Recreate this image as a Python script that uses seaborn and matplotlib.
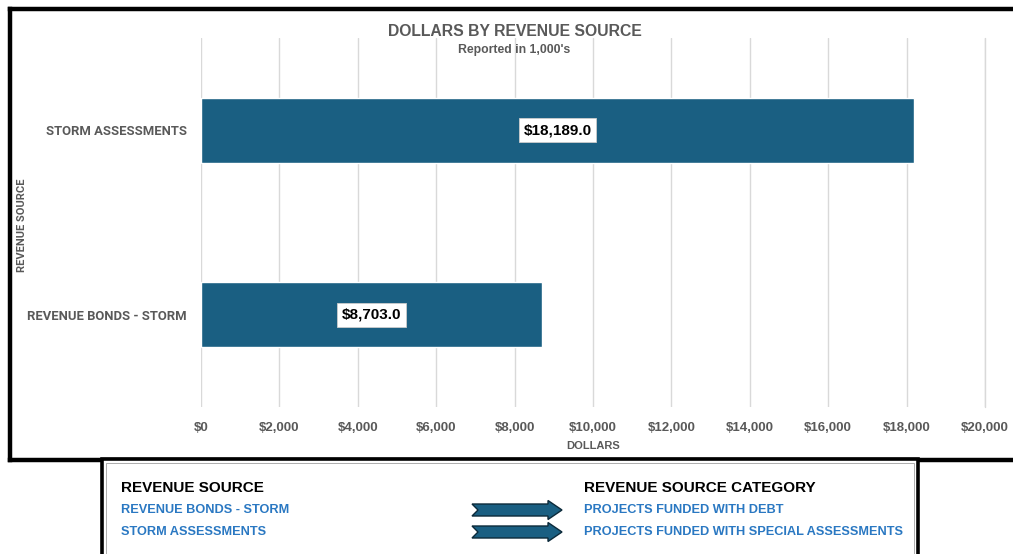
import matplotlib
matplotlib.use("Agg")
import matplotlib.pyplot as plt
from matplotlib.patches import Polygon, Rectangle
from matplotlib.lines import Line2D
from matplotlib.font_manager import fontManager
import seaborn as sns
import pandas as pd

# ---- data (reported in thousands of dollars) ----
sources = ["STORM ASSESSMENTS", "REVENUE BONDS - STORM"]
dollars = [18189.0, 8703.0]
x_ticks = [0, 2000, 4000, 6000, 8000, 10000, 12000, 14000, 16000, 18000, 20000]

legend_sources = ["REVENUE BONDS - STORM", "STORM ASSESSMENTS"]
legend_categories = ["PROJECTS FUNDED WITH DEBT", "PROJECTS FUNDED WITH SPECIAL ASSESSMENTS"]

# ---- styling ----
BAR = "#1A5F82"
GREY = "#595959"
LINK = "#2A78C2"
GRID = "#D9D9D9"

available = {f.name for f in fontManager.ttflist}
NARROW = "Liberation Sans Narrow" if "Liberation Sans Narrow" in available else "Liberation Sans"
WIDE = "Roboto" if "Roboto" in available else "DejaVu Sans"

sns.set_theme(style="white")
plt.rcParams["font.family"] = [NARROW, "DejaVu Sans"]

W, H = 1013, 554
fig = plt.figure(figsize=(W / 100, H / 100), dpi=100)
fig.patch.set_facecolor("white")


def fx(px):
    return px / W


def fy(py):
    return 1 - py / H


df = pd.DataFrame({"source": sources, "dollars": dollars})

ax = fig.add_axes([fx(201), fy(407), fx(985) - fx(201), fy(38) - fy(407)])
sns.barplot(data=df, x="dollars", y="source", orient="h", color=BAR,
            saturation=1, width=0.35, ax=ax, zorder=2)

ax.set_xlim(0, 20000)
ax.set_ylim(1.5, -0.5)
ax.set_xticks(x_ticks)
ax.set_xticklabels([f"${v:,.0f}" for v in x_ticks])
ax.xaxis.grid(True, color=GRID, linewidth=1, zorder=0)
ax.yaxis.grid(False)
ax.set_axisbelow(True)
for s in ax.spines.values():
    s.set_visible(False)
ax.tick_params(axis="x", length=0, pad=11, labelsize=9.5, labelcolor=GREY)
ax.tick_params(axis="y", length=0, pad=10, labelsize=9.4, labelcolor=GREY)
for lab in ax.get_xticklabels():
    lab.set_fontweight("bold")
for lab in ax.get_yticklabels():
    lab.set_fontweight("bold")
    lab.set_family([WIDE, "DejaVu Sans"])
ax.set_xlabel("")
ax.set_ylabel("")
# the 20,000 grid line sits on the right edge
ax.axvline(20000, color=GRID, linewidth=1, zorder=0, clip_on=False)

# value labels in white boxes at the middle of each bar
for i, v in enumerate(dollars):
    ax.text(v / 2, i, f"${v:,.1f}", ha="center", va="center", fontsize=11,
            fontweight="bold", color="black", family=["Liberation Sans", "DejaVu Sans"],
            bbox=dict(boxstyle="square,pad=0.32", fc="white", ec="#CCCCCC", lw=0.6),
            zorder=3)

# titles and axis names
fig.text(fx(515), fy(31), "DOLLARS BY REVENUE SOURCE", ha="center", va="center",
         fontsize=11.3, fontweight="bold", color=GREY)
fig.text(fx(514), fy(50), "Reported in 1,000's", ha="center", va="center",
         fontsize=8.8, fontweight="bold", color=GREY)
fig.text(fx(593), fy(446), "DOLLARS", ha="center", va="center",
         fontsize=8, fontweight="bold", color=GREY)
fig.text(fx(22), fy(225), "REVENUE SOURCE", ha="center", va="center", rotation=90,
         fontsize=8, fontweight="bold", color=GREY, family=[WIDE, "DejaVu Sans"])

# outer frame around the chart (open on the right)
frame_kw = dict(color="black", linewidth=3.2, solid_capstyle="projecting",
                transform=fig.transFigure)
fig.add_artist(Line2D([fx(10), fx(1013)], [fy(9), fy(9)], **frame_kw))
fig.add_artist(Line2D([fx(10), fx(10)], [fy(9), fy(460)], **frame_kw))
fig.add_artist(Line2D([fx(10), fx(1013)], [fy(460), fy(460)], **frame_kw))

# key box below the chart
fig.add_artist(Rectangle((fx(102), fy(575)), fx(918) - fx(102), fy(459) - fy(575),
                         transform=fig.transFigure, facecolor="white",
                         edgecolor="black", linewidth=2.6, zorder=5))
fig.add_artist(Rectangle((fx(106), fy(575)), fx(914) - fx(106), fy(463) - fy(575),
                         transform=fig.transFigure, facecolor="none",
                         edgecolor="#A0A0A0", linewidth=0.6, zorder=5))

fig.text(fx(121), fy(488), "REVENUE SOURCE", ha="left", va="center",
         fontsize=11, fontweight="bold", color="black", zorder=6)
fig.text(fx(584), fy(488), "REVENUE SOURCE CATEGORY", ha="left", va="center",
         fontsize=11, fontweight="bold", color="black", zorder=6)

rows_y = [510, 532]
for yy, src, cat in zip(rows_y, legend_sources, legend_categories):
    fig.text(fx(121), fy(yy), src, ha="left", va="center", fontsize=9.15,
             fontweight="bold", color=LINK, zorder=6)
    fig.text(fx(584), fy(yy), cat, ha="left", va="center", fontsize=9.15,
             fontweight="bold", color=LINK, zorder=6)
    # notched arrow pointing from source to category
    pts = [(472, yy - 6), (548, yy - 6), (548, yy - 9.5), (562, yy),
           (548, yy + 9.5), (548, yy + 6), (472, yy + 6), (478, yy)]
    fig.add_artist(Polygon([(fx(px), fy(py)) for px, py in pts], closed=True,
                           transform=fig.transFigure, facecolor=BAR,
                           edgecolor="#0C2A3A", linewidth=1.0, zorder=6))

fig.savefig("out.png", dpi=100, facecolor="white")
